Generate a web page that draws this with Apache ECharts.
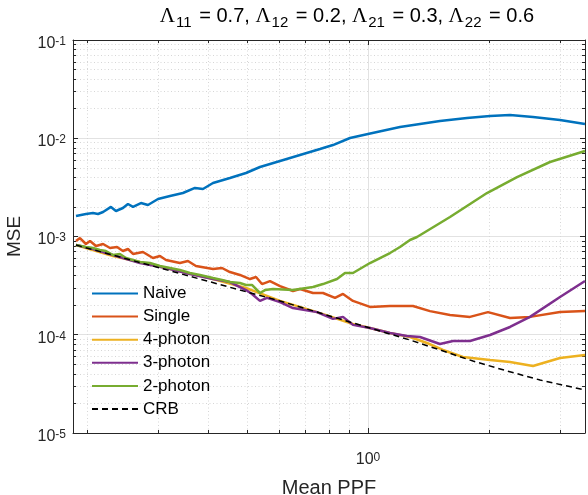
<!DOCTYPE html>
<html><head><meta charset="utf-8">
<script src="https://cdn.jsdelivr.net/npm/echarts@6/dist/echarts.min.js"></script>
<style>html,body{margin:0;padding:0;background:#fff}#c{width:588px;height:495px}</style>
</head><body><div id="c"></div>
<script>
// ---------- data ----------
const seriesNames = ['Naive', 'Single', '4-photon', '3-photon', '2-photon', 'CRB'];
const xMajorTicks = [1];
const xMinorTicks = [0.2, 0.3, 0.4, 0.5, 0.6, 0.7, 0.8, 0.9, 2, 3];
const yMajorTicks = [1e-5, 1e-4, 1e-3, 1e-2, 1e-1];
const yMinorTicks = [2e-5,3e-5,4e-5,5e-5,6e-5,7e-5,8e-5,9e-5,
  2e-4,3e-4,4e-4,5e-4,6e-4,7e-4,8e-4,9e-4,
  2e-3,3e-3,4e-3,5e-3,6e-3,7e-3,8e-3,9e-3,
  2e-2,3e-2,4e-2,5e-2,6e-2,7e-2,8e-2,9e-2];
const xRange = [0.1846, 3.466];
const yRange = [1e-5, 1e-1];

const naive = [[0.1878,1.617e-3],[0.1988,1.694e-3],[0.2070,1.734e-3],[0.2130,1.694e-3],[0.2193,1.776e-3],
  [0.2294,2.00e-3],[0.2361,1.818e-3],[0.2457,1.950e-3],[0.2529,2.141e-3],[0.2603,2.00e-3],[0.2724,2.19e-3],
  [0.2836,2.09e-3],[0.3004,2.408e-3],[0.3218,2.584e-3],[0.3465,2.77e-3],[0.3712,3.12e-3],[0.3886,3.045e-3],
  [0.4116,3.503e-3],[0.4535,3.938e-3],[0.4972,4.43e-3],[0.5387,5.097e-3],[0.6042,5.866e-3],[0.6774,6.75e-3],
  [0.7596,7.77e-3],[0.8182,8.53e-3],[0.9020,1.006e-2],[1.0,1.105e-2],[1.2012,1.302e-2],[1.5103,1.498e-2],
  [1.7630,1.607e-2],[2.0115,1.684e-2],[2.2557,1.724e-2],[2.5730,1.646e-2],[3.0037,1.533e-2],[3.4661,1.396e-2]];
const single = [[0.1878,9.00e-4],[0.1921,9.65e-4],[0.1988,8.39e-4],[0.2035,9.00e-4],[0.2106,8.00e-4],
  [0.2193,8.39e-4],[0.2282,7.64e-4],[0.2375,7.81e-4],[0.2457,7.12e-4],[0.2529,7.46e-4],[0.2603,6.64e-4],
  [0.2756,6.96e-4],[0.2918,6.04e-4],[0.3038,6.33e-4],[0.3145,5.77e-4],[0.3405,5.37e-4],[0.3566,5.63e-4],
  [0.3733,5.01e-4],[0.4116,4.67e-4],[0.4334,4.78e-4],[0.4535,4.35e-4],[0.4803,4.06e-4],[0.5087,3.69e-4],
  [0.5266,3.87e-4],[0.5449,3.28e-4],[0.5705,3.52e-4],[0.6042,3.13e-4],[0.6508,2.79e-4],[0.6774,2.92e-4],
  [0.7298,2.66e-4],[0.7728,2.66e-4],[0.8278,2.37e-4],[0.8666,2.60e-4],[0.9176,2.21e-4],[1.0115,1.92e-4],
  [1.1343,1.96e-4],[1.2939,1.96e-4],[1.4263,1.74e-4],[1.5996,1.59e-4],[1.7935,1.52e-4],[1.9885,1.70e-4],
  [2.2557,1.48e-4],[2.5293,1.52e-4],[3.0037,1.70e-4],[3.4661,1.74e-4]];
const photon4 = [[0.1878,8.19e-4],[0.2321,6.33e-4],[0.3145,4.78e-4],[0.4116,3.69e-4],[0.4972,2.99e-4],
  [0.6042,2.21e-4],[0.7466,1.70e-4],[0.9176,1.286e-4],[1.0115,1.17e-4],[1.1343,1.04e-4],[1.2719,9.49e-5],
  [1.4021,8.24e-5],[1.5366,7.00e-5],[1.7230,5.94e-5],[2.0115,5.53e-5],[2.2557,5.28e-5],[2.5730,4.81e-5],
  [3.0037,5.80e-5],[3.4661,6.22e-5]];
const photon3 = [[0.1878,8.19e-4],[0.2070,7.46e-4],[0.2321,6.48e-4],[0.2709,5.37e-4],[0.3145,4.78e-4],
  [0.3606,4.15e-4],[0.4116,3.69e-4],[0.4535,3.44e-4],[0.4803,3.06e-4],[0.4972,2.85e-4],[0.5145,2.60e-4],
  [0.5387,2.21e-4],[0.5608,2.37e-4],[0.6042,2.15e-4],[0.6508,1.87e-4],[0.6970,1.786e-4],[0.7466,1.70e-4],
  [0.8182,1.45e-4],[0.8666,1.52e-4],[0.9176,1.26e-4],[1.0115,1.17e-4],[1.1343,1.04e-4],[1.2502,9.71e-5],
  [1.3469,9.49e-5],[1.5103,8.05e-5],[1.6272,8.64e-5],[1.7935,8.64e-5],[2.0115,9.94e-5],[2.2557,1.20e-4],
  [2.5293,1.52e-4],[3.0037,2.42e-4],[3.4661,3.52e-4]];
const photon2 = [[0.1878,8.19e-4],[0.1988,7.81e-4],[0.2070,7.64e-4],[0.2154,7.29e-4],[0.2229,7.12e-4],
  [0.2321,6.48e-4],[0.2415,6.64e-4],[0.2500,6.04e-4],[0.2603,5.77e-4],[0.2709,5.50e-4],[0.2869,5.37e-4],
  [0.3038,5.01e-4],[0.3218,4.78e-4],[0.3405,4.56e-4],[0.3606,4.25e-4],[0.3820,4.06e-4],[0.4116,3.78e-4],
  [0.4334,3.61e-4],[0.4535,3.44e-4],[0.4803,3.36e-4],[0.4972,3.21e-4],[0.5145,3.21e-4],[0.5387,2.66e-4],
  [0.5544,2.85e-4],[0.5804,2.92e-4],[0.6508,2.85e-4],[0.7298,3.06e-4],[0.7728,3.28e-4],[0.8374,3.69e-4],
  [0.8766,4.25e-4],[0.9176,4.25e-4],[1.0115,5.37e-4],[1.1343,6.79e-4],[1.2012,7.81e-4],[1.2719,9.21e-4],
  [1.3240,9.88e-4],[1.5996,1.579e-3],[1.9770,2.77e-3],[2.3481,4.03e-3],[2.8369,5.73e-3],[3.4661,7.42e-3]];
const crb = [[0.1878,8.19e-4],[0.2415,6.18e-4],[0.3038,4.78e-4],[0.3820,3.69e-4],[0.4803,2.85e-4],
  [0.6042,2.21e-4],[0.7596,1.665e-4],[1.0115,1.17e-4],[1.2719,8.84e-5],[1.5103,7.00e-5],[1.8245,5.40e-5],
  [2.2175,4.28e-5],[2.6786,3.46e-5],[3.4661,2.74e-5]];

// ---------- styling ----------
const FONT = "'Liberation Sans', Arial, Helvetica, sans-serif";
const AX = '#262626';
const colors = ['#0072BD', '#D95319', '#EDB120', '#7E2F8E', '#77AC30', '#000000'];
const seriesData = [naive, single, photon4, photon3, photon2, crb];

const supRich = {
  b: { fontSize: 16, fontFamily: FONT, color: AX, verticalAlign: 'bottom', lineHeight: 16 },
  e: { fontSize: 12, fontFamily: FONT, color: AX, verticalAlign: 'top', lineHeight: 12, padding: [0, 0, 10, 0] }
};
function powLabel(v) {
  const e = Math.round(Math.log10(v));
  return '{b|10}{e|' + e + '}';
}

function axisDef(dim, position, ticks, tickLen, showLine) {
  const r = dim === 'x' ? xRange : yRange;
  return {
    type: 'log', logBase: 10, min: r[0], max: r[1], position: position,
    axisLine: { show: showLine, onZero: false, lineStyle: { color: AX, width: 1 } },
    axisTick: { show: true, inside: true, length: tickLen, customValues: ticks, lineStyle: { color: AX, width: 1 } },
    axisLabel: { show: false },
    splitLine: { show: false },
    minorTick: { show: false }, minorSplitLine: { show: false },
    axisPointer: { show: false }, silent: true
  };
}

const xMain = axisDef('x', 'bottom', xMajorTicks, 5, true);
xMain.axisLabel = { show: true, customValues: xMajorTicks, formatter: powLabel, rich: supRich, margin: 19 };
xMain.splitLine = { show: true, lineStyle: { color: '#e2e2e2', width: 1 } };
xMain.name = 'Mean PPF';
xMain.nameLocation = 'middle';
xMain.nameGap = 38;
xMain.nameTextStyle = { fontSize: 20, fontFamily: FONT, color: AX };
const xMinor = axisDef('x', 'bottom', xMinorTicks, 3, false);
xMinor.splitLine = { show: true, lineStyle: { color: '#d6d6d6', width: 1, type: [1, 2.5] } };

const yMain = axisDef('y', 'left', yMajorTicks, 5, true);
yMain.axisLabel = { show: true, customValues: yMajorTicks, formatter: powLabel, rich: supRich, margin: 7, padding: [7, 0, 0, 0] };
yMain.splitLine = { show: true, lineStyle: { color: '#e2e2e2', width: 1 } };
yMain.name = 'MSE';
yMain.nameLocation = 'middle';
yMain.nameGap = 49;
yMain.nameTextStyle = { fontSize: 19, fontFamily: FONT, color: AX };
const yMinor = axisDef('y', 'left', yMinorTicks, 3, false);
yMinor.splitLine = { show: true, lineStyle: { color: '#d6d6d6', width: 1, type: [1, 2.5] } };

const option = {
  animation: false,
  backgroundColor: '#ffffff',
  grid: { left: 73, right: 3, top: 40, bottom: 62, containLabel: false, outerBoundsMode: 'none' },
  xAxis: [xMain, xMinor, axisDef('x', 'top', xMajorTicks, 5, true), axisDef('x', 'top', xMinorTicks, 3, false)],
  yAxis: [yMain, yMinor, axisDef('y', 'right', yMajorTicks, 5, true), axisDef('y', 'right', yMinorTicks, 3, false)],
  legend: {
    orient: 'vertical', left: 91, top: 285, padding: 0,
    itemWidth: 46, itemHeight: 14, itemGap: 6.1,
    data: seriesNames,
    textStyle: { fontSize: 17, fontFamily: FONT, color: '#000' },
    itemStyle: { opacity: 0 },
    selectedMode: false
  },
  graphic: [{
    type: 'text', x: 347, y: 17, silent: true,
    style: {
      text: '{L|Λ}{s|11}{n| = 0.7, }{L|Λ}{s|12}{n| = 0.2, }{L|Λ}{s|21}{n| = 0.3, }{L|Λ}{s|22}{n| = 0.6}',
      align: 'center', verticalAlign: 'middle',
      rich: {
        L: { fontSize: 21, fontFamily: "'Liberation Serif', 'Times New Roman', serif", color: AX, verticalAlign: 'top', lineHeight: 22 },
        s: { fontSize: 15, fontFamily: FONT, color: AX, verticalAlign: 'top', lineHeight: 15, padding: [9, 2, 0, 1] },
        n: { fontSize: 20, fontFamily: FONT, color: AX, verticalAlign: 'top', lineHeight: 22 }
      }
    }
  }],
  series: seriesNames.map((n, i) => ({
    name: n, type: 'line', data: seriesData[i], xAxisIndex: 0, yAxisIndex: 0,
    symbol: 'none', showSymbol: false, smooth: false,
    lineStyle: { color: colors[i], width: i === 5 ? 1.5 : 2.5, type: i === 5 ? [6, 4] : 'solid' },
    itemStyle: { color: colors[i] },
    emphasis: { disabled: true }, z: 2 + i
  }))
};
const chart = echarts.init(document.getElementById('c'), null, { renderer: 'canvas' });
chart.setOption(option);
</script></body></html>
